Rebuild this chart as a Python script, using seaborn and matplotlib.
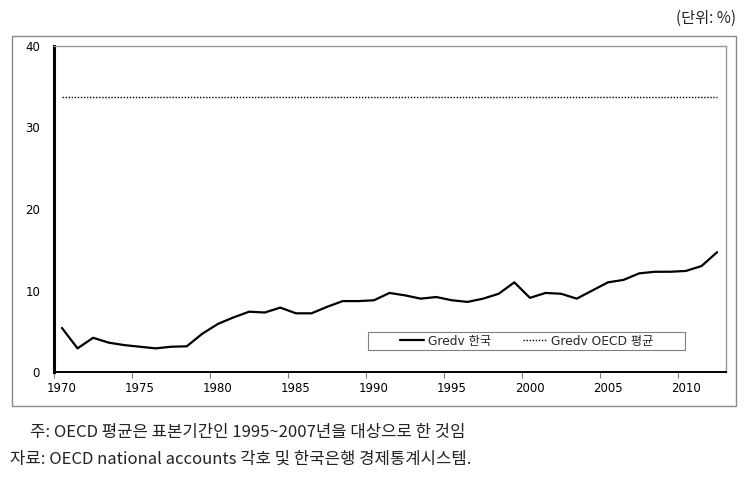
import matplotlib
matplotlib.use("Agg")
import matplotlib.pyplot as plt
import matplotlib.patches as patches
import seaborn as sns
import pandas as pd

years = list(range(1970, 2013))
korea = [5.4, 2.9, 4.2, 3.6, 3.3, 3.1, 2.9, 3.1, 3.15, 4.7,
         5.9, 6.7, 7.4, 7.3, 7.9, 7.2, 7.2, 8.0, 8.7, 8.7,
         8.8, 9.7, 9.4, 9.0, 9.2, 8.8, 8.6, 9.0, 9.6, 11.0,
         9.1, 9.7, 9.6, 9.0, 10.0, 11.0, 11.3, 12.1, 12.3, 12.3,
         12.4, 13.0, 14.7]
oecd_avg = 33.7
label_korea = "Gredv 한국"
label_oecd = "Gredv OECD 평균"
yticks = [0, 10, 20, 30, 40]
xticks = [1970, 1975, 1980, 1985, 1990, 1995, 2000, 2005, 2010]
unit_text = "(단위: %)"
note1 = "주: OECD 평균은 표본기간인 1995~2007년을 대상으로 한 것임"
note2 = "자료: OECD national accounts 각호 및 한국은행 경제통계시스템."

sns.set_theme(style="white")
plt.rcParams['font.family'] = ['DejaVu Sans', 'Noto Sans CJK KR']

df_k = pd.DataFrame({"year": years, "value": korea})
df_o = pd.DataFrame({"year": [years[0], years[-1]], "value": [oecd_avg, oecd_avg]})

W, H = 754, 488
fig = plt.figure(figsize=(W / 100, H / 100), dpi=100)
fig.patch.set_facecolor("white")

# outer chart border
fig.add_artist(patches.Rectangle((12 / W, (H - 406) / H), 724 / W, 370 / H,
                                 transform=fig.transFigure, fill=False,
                                 edgecolor="#8a8a8a", linewidth=1.0))

ax = fig.add_axes([54 / W, (H - 372) / H, 672 / W, 326 / H])
sns.lineplot(data=df_k, x="year", y="value", ax=ax, color="black",
             linewidth=1.6, label=label_korea)
sns.lineplot(data=df_o, x="year", y="value", ax=ax, color="black",
             linewidth=1.0, linestyle=(0, (1, 1.2)), label=label_oecd)

ax.set_xlim(1969.49, 2012.57)
ax.set_ylim(0, 40)
ax.set_yticks(yticks)
ax.set_yticklabels([str(v) for v in yticks])
ax.set_xticks(xticks)
ax.set_xticklabels([str(v) for v in xticks])
ax.set_xticks([x - 0.5 for x in xticks], minor=True)
ax.tick_params(axis="x", which="major", length=0, pad=7, labelsize=8.5, colors="black")
ax.tick_params(axis="x", which="minor", length=4, width=0.8, color="#808080", direction="out", bottom=True)
ax.tick_params(axis="y", which="major", length=0, pad=10, labelsize=8.5, colors="black")
ax.set_xlabel("")
ax.set_ylabel("")
ax.grid(False)

ax.spines["left"].set_color("black")
ax.spines["left"].set_linewidth(2.2)
ax.spines["bottom"].set_color("black")
ax.spines["bottom"].set_linewidth(1.4)
for s in ("top", "right"):
    ax.spines[s].set_color("#9a9a9a")
    ax.spines[s].set_linewidth(1.0)

# legend box (frame drawn separately, content centred inside)
bx0, bx1, by0, by1 = 368, 685, 332, 350
ax.add_patch(patches.Rectangle(((bx0 - 54) / 672, (372 - by1) / 326),
                               (bx1 - bx0) / 672, (by1 - by0) / 326,
                               transform=ax.transAxes, fill=True, facecolor="white",
                               edgecolor="#808080", linewidth=0.8, zorder=4))
leg = ax.legend(loc="center", bbox_to_anchor=(((bx0 + bx1) / 2 - 54) / 672,
                                              (372 - (by0 + by1) / 2) / 326),
                ncol=2, frameon=False, fontsize=8.8, handlelength=2.0,
                handletextpad=0.3, columnspacing=2.6, borderpad=0, borderaxespad=0)
leg.set_zorder(5)

fig.text(736 / W, (H - 18) / H, unit_text, ha="right", va="center",
         fontsize=11, family=["Noto Sans CJK KR"], color="#222222")
fig.text(30 / W, (H - 432) / H, note1, ha="left", va="center",
         fontsize=12, family=["Noto Sans CJK KR"], color="#222222")
fig.text(10 / W, (H - 459) / H, note2, ha="left", va="center",
         fontsize=12, family=["Noto Sans CJK KR"], color="#222222")

fig.savefig("out.png", dpi=100, facecolor="white")
